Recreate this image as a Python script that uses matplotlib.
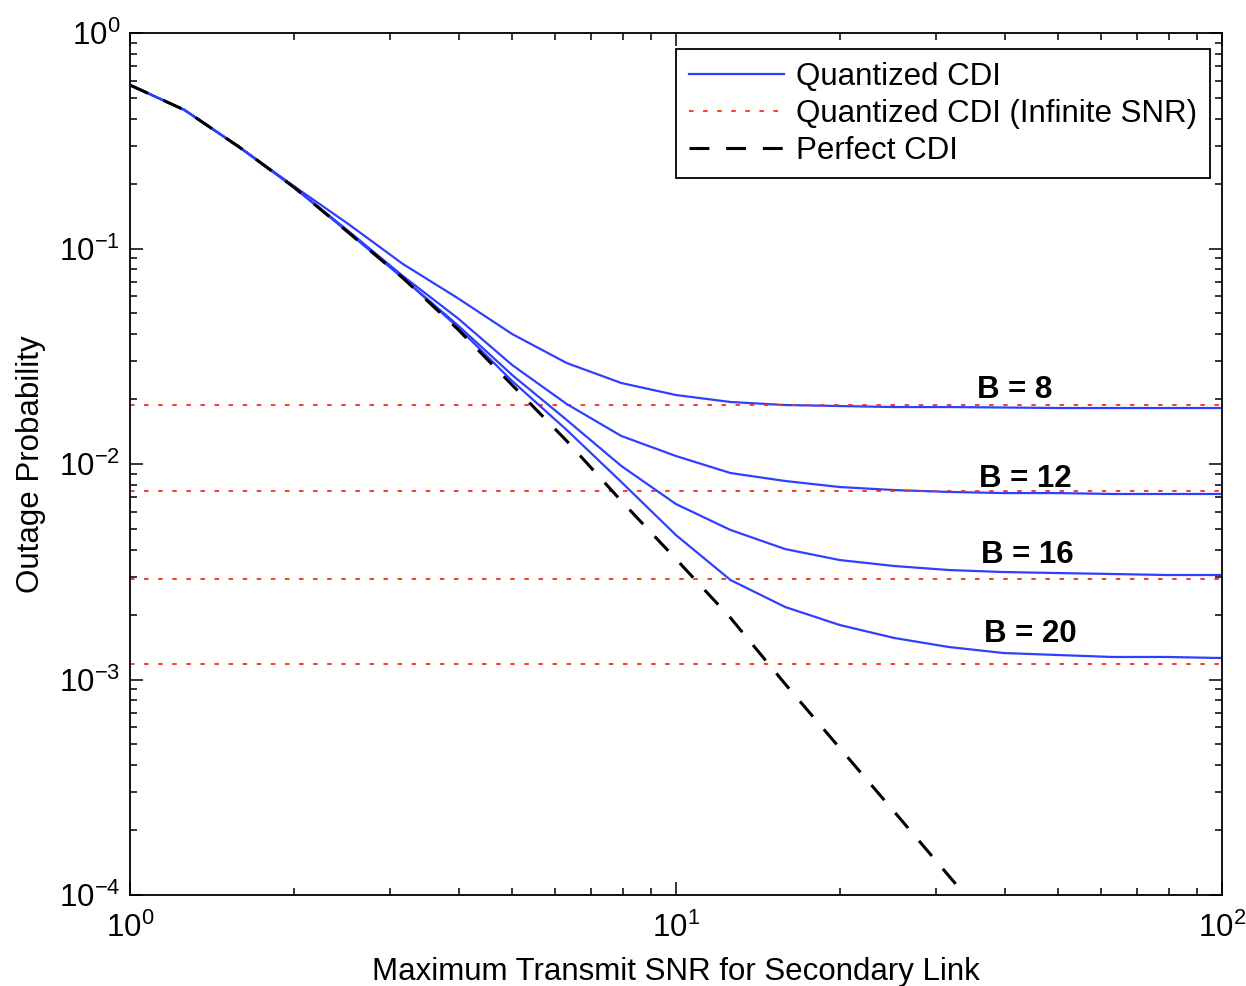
import matplotlib.pyplot as plt
from matplotlib.ticker import LogLocator, NullFormatter

plt.rcParams['font.family'] = 'Liberation Sans'
plt.rcParams['mathtext.fontset'] = 'custom'
plt.rcParams['mathtext.rm'] = 'Liberation Sans'
plt.rcParams['mathtext.it'] = 'Liberation Sans'
plt.rcParams['axes.unicode_minus'] = False

# SNR sampled every 1 dB from 0 to 20 dB
snr = [1.0, 1.259, 1.585, 1.995, 2.512, 3.162, 3.981, 5.012, 6.310, 7.943,
       10.0, 12.59, 15.85, 19.95, 25.12, 31.62, 39.81, 50.12, 63.10, 79.43, 100.0]

perfect = [0.5737, 0.4392, 0.2958, 0.1929, 0.1187, 0.07295, 0.04231, 0.02326,
           0.01279, 6.735e-3, 3.624e-3, 1.930e-3, 9.53e-4, 4.81e-4, 2.43e-4,
           1.225e-4, 6.18e-5]

quant_b8 = [0.5737, 0.4392, 0.2958, 0.1950, 0.1299, 0.08474, 0.05893, 0.04010,
            0.02942, 0.02376, 0.02090, 0.01940, 0.01878, 0.01858, 0.01838,
            0.01838, 0.01829, 0.01819, 0.01819, 0.01819, 0.01819]
quant_b12 = [0.5737, 0.4392, 0.2958, 0.1929, 0.1206, 0.07452, 0.04758, 0.02880,
             0.01898, 0.01349, 0.01089, 9.08e-3, 8.34e-3, 7.82e-3, 7.57e-3,
             7.42e-3, 7.33e-3, 7.33e-3, 7.26e-3, 7.26e-3, 7.26e-3]
quant_b16 = [0.5737, 0.4392, 0.2958, 0.1929, 0.1193, 0.07295, 0.04416, 0.02588,
             0.01600, 9.79e-3, 6.52e-3, 4.94e-3, 4.03e-3, 3.584e-3, 3.362e-3,
             3.221e-3, 3.153e-3, 3.119e-3, 3.087e-3, 3.054e-3, 3.054e-3]
quant_b20 = [0.5737, 0.4392, 0.2958, 0.1929, 0.1187, 0.07295, 0.04322, 0.02428,
             0.01438, 8.25e-3, 4.68e-3, 2.894e-3, 2.170e-3, 1.790e-3, 1.558e-3,
             1.415e-3, 1.327e-3, 1.299e-3, 1.272e-3, 1.272e-3, 1.258e-3]

bits = [8, 12, 16, 20]
quant = [quant_b8, quant_b12, quant_b16, quant_b20]
# outage floor for infinite SNR
floor = [0.0188, 7.5e-3, 2.93e-3, 1.18e-3]

# label anchors (snr, prob), text baseline
label_pos = [(41.8, 0.02024), (43.6, 7.82e-3), (44.0, 3.47e-3), (44.5, 1.493e-3)]

FS = 22.5

fig = plt.figure(figsize=(12.46, 9.86), dpi=100)
ax = fig.add_axes([0.1043, 0.0923, 0.8764, 0.8742])

blue = '#2f3fff'
red = '#ff2a1a'
for i, b in enumerate(bits):
    ax.plot(snr, quant[i], color=blue, lw=1.6,
            label='Quantized CDI' if i == 0 else None)
    ax.axhline(floor[i], color=red, lw=1.3, linestyle=(0, (2.5, 5.3)),
               label='Quantized CDI (Infinite SNR)' if i == 0 else None)
    ax.text(label_pos[i][0], label_pos[i][1], f'B = {b}', fontsize=FS,
            fontweight='bold', ha='center', va='baseline')

ax.plot(snr[:len(perfect)], perfect, color='black', lw=2.2,
        linestyle=(0, (6.5, 5.5)), label='Perfect CDI')

ax.set_xscale('log')
ax.set_yscale('log')
ax.set_xlim(1, 100)
ax.set_ylim(1e-4, 1)
ax.xaxis.set_major_locator(LogLocator(base=10, numticks=10))
ax.yaxis.set_major_locator(LogLocator(base=10, numticks=10))
ax.xaxis.set_minor_locator(LogLocator(base=10, subs=range(2, 10), numticks=20))
ax.yaxis.set_minor_locator(LogLocator(base=10, subs=range(2, 10), numticks=20))
ax.xaxis.set_minor_formatter(NullFormatter())
ax.yaxis.set_minor_formatter(NullFormatter())

ax.tick_params(which='both', direction='in', top=True, right=True, labelsize=FS)
ax.tick_params(which='major', length=9.5, width=1.1)
ax.tick_params(which='minor', length=5, width=1.1)
ax.tick_params(axis='x', pad=13)
ax.tick_params(axis='y', pad=7)
for s in ax.spines.values():
    s.set_linewidth(1.3)

ax.set_xlabel('Maximum Transmit SNR for Secondary Link', fontsize=FS)
ax.set_ylabel('Outage Probability', fontsize=FS)
ax.xaxis.set_label_coords(0.5, -0.072)
ax.yaxis.set_label_coords(-0.077, 0.5)

handles, labels = ax.get_legend_handles_labels()
leg = ax.legend(handles, labels, loc='upper right', bbox_to_anchor=(0.989, 0.981),
                borderaxespad=0, fontsize=FS, handlelength=3.05, fancybox=False,
                framealpha=1, edgecolor='black', labelspacing=0.22,
                handletextpad=0.4, borderpad=0.4)
leg.get_frame().set_linewidth(1.3)

fig.savefig('out.png', dpi=100)
